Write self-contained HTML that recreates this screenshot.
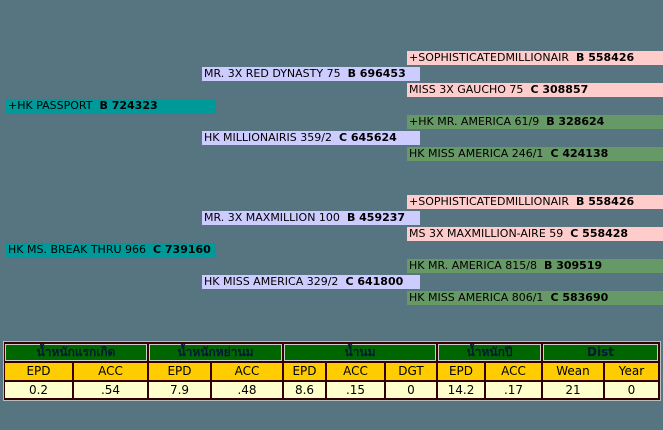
<!DOCTYPE html><html><head><meta charset="utf-8"><style>
body{margin:0;width:663px;height:430px;background:#577581;position:relative;overflow:hidden;font-family:"DejaVu Sans","Liberation Sans",sans-serif}
.b{position:absolute;height:14px;font-size:11px;line-height:14px;color:#000;padding-left:2px;box-sizing:border-box;white-space:nowrap;overflow:hidden}
.b b{margin-left:7px}
.p{background:#ffcccc;left:407px;width:256px}
.l{background:#ccccff;left:202px;width:218px}
.t{background:#009999;left:6px;width:210px}
.g{background:#669966;left:407px;width:256px}
.c{position:absolute;box-sizing:border-box;text-align:center;font-size:12px}
.h{background:#006600;color:#001a33;font-weight:bold;border:1px solid #ccc;height:17px;line-height:15px;top:344px}
.y{background:#ffcc00;color:#000;height:17px;line-height:17px;top:363px}
.v{background:#ffffcc;color:#000;height:16px;line-height:16px;top:382px}
</style></head><body>
<div class="b p" style="top:51px">+SOPHISTICATEDMILLIONAIR<b>B 558426</b></div>
<div class="b l" style="top:67px">MR. 3X RED DYNASTY 75<b>B 696453</b></div>
<div class="b p" style="top:83px">MISS 3X GAUCHO 75<b>C 308857</b></div>
<div class="b t" style="top:99px">+HK PASSPORT<b>B 724323</b></div>
<div class="b g" style="top:115px">+HK MR. AMERICA 61/9<b>B 328624</b></div>
<div class="b l" style="top:131px">HK MILLIONAIRIS 359/2<b>C 645624</b></div>
<div class="b g" style="top:147px">HK MISS AMERICA 246/1<b>C 424138</b></div>
<div class="b p" style="top:195px">+SOPHISTICATEDMILLIONAIR<b>B 558426</b></div>
<div class="b l" style="top:211px">MR. 3X MAXMILLION 100<b>B 459237</b></div>
<div class="b p" style="top:227px">MS 3X MAXMILLION-AIRE 59<b>C 558428</b></div>
<div class="b t" style="top:243px">HK MS. BREAK THRU 966<b>C 739160</b></div>
<div class="b g" style="top:259px">HK MR. AMERICA 815/8<b>B 309519</b></div>
<div class="b l" style="top:275px">HK MISS AMERICA 329/2<b>C 641800</b></div>
<div class="b g" style="top:291px">HK MISS AMERICA 806/1<b>C 583690</b></div>
<div style="position:absolute;left:3px;top:341px;width:658px;height:60px;background:#330000;border:1px solid #bbb;box-sizing:border-box"></div>
<div class="c h" style="left:5px;width:142px">น้ำหนักแรกเกิด</div>
<div class="c h" style="left:149px;width:133px">น้ำหนักหย่านม</div>
<div class="c h" style="left:284px;width:152px">น้ำนม</div>
<div class="c h" style="left:438px;width:103px">น้ำหนักปี</div>
<div class="c h" style="left:543px;width:115px">Dist</div>
<div class="c y" style="left:5px;width:67px">EPD</div><div class="c y" style="left:74px;width:73px">ACC</div>
<div class="c y" style="left:149px;width:61px">EPD</div><div class="c y" style="left:212px;width:70px">ACC</div>
<div class="c y" style="left:284px;width:41px">EPD</div><div class="c y" style="left:327px;width:57px">ACC</div><div class="c y" style="left:386px;width:50px">DGT</div>
<div class="c y" style="left:438px;width:46px">EPD</div><div class="c y" style="left:486px;width:55px">ACC</div>
<div class="c y" style="left:543px;width:60px">Wean</div><div class="c y" style="left:605px;width:53px">Year</div>
<div class="c v" style="left:5px;width:67px">0.2</div><div class="c v" style="left:74px;width:73px">.54</div>
<div class="c v" style="left:149px;width:61px">7.9</div><div class="c v" style="left:212px;width:70px">.48</div>
<div class="c v" style="left:284px;width:41px">8.6</div><div class="c v" style="left:327px;width:57px">.15</div><div class="c v" style="left:386px;width:50px">0</div>
<div class="c v" style="left:438px;width:46px">14.2</div><div class="c v" style="left:486px;width:55px">.17</div>
<div class="c v" style="left:543px;width:60px">21</div><div class="c v" style="left:605px;width:53px">0</div>
</body></html>
